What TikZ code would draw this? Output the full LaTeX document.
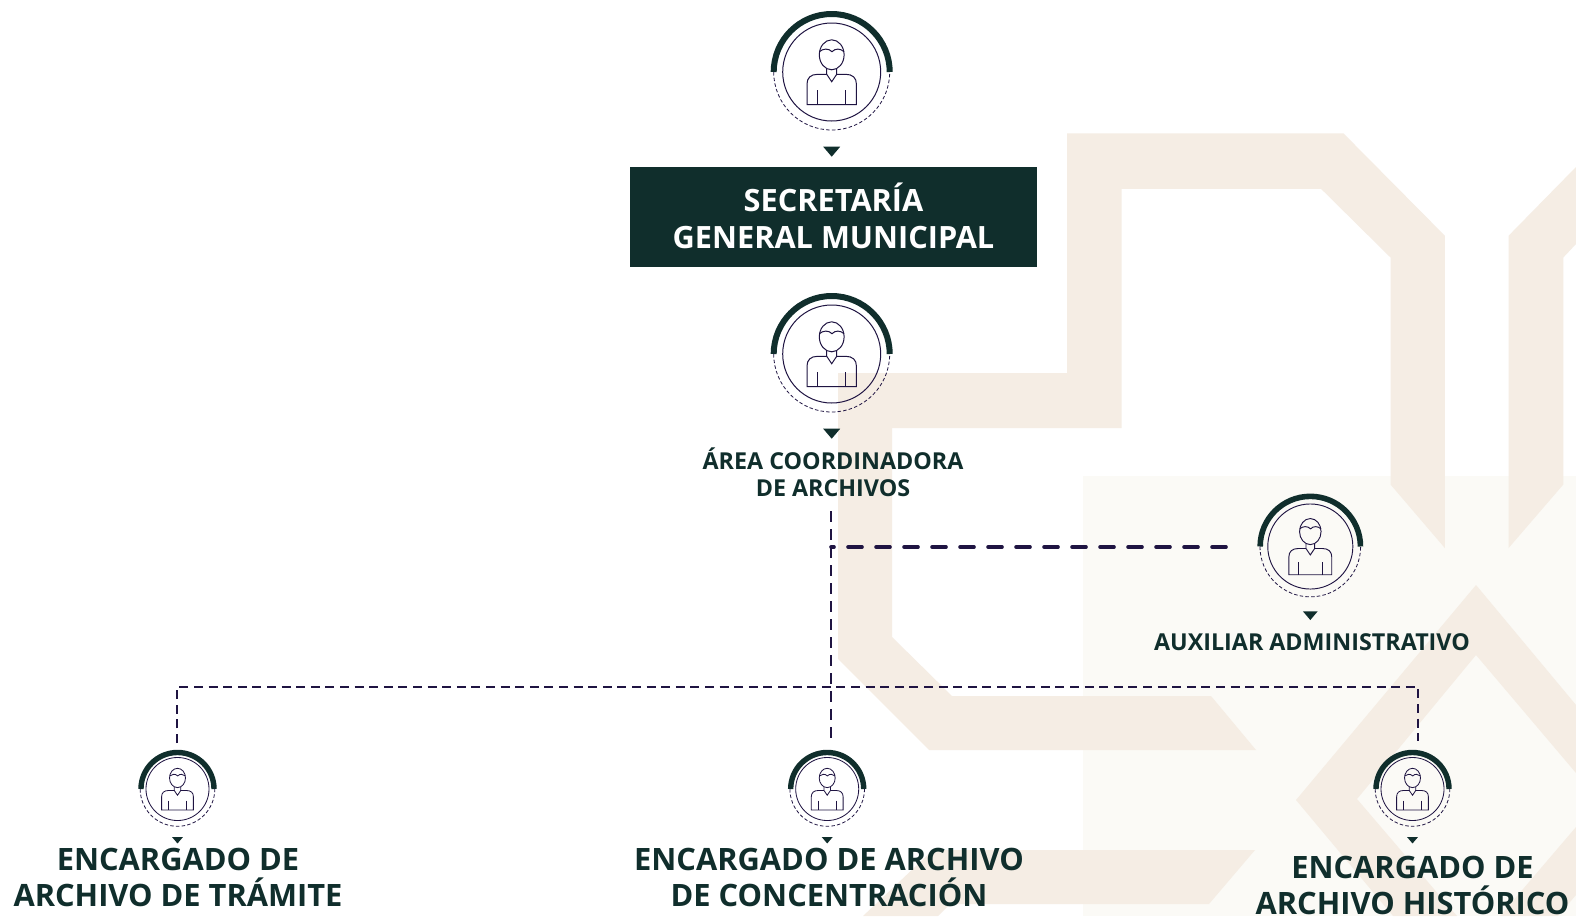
\documentclass[tikz,border=0pt]{standalone}
\usepackage{fontspec}
\setmainfont{Open Sans}
\definecolor{darkgreen}{HTML}{102E2C}
\definecolor{navy}{HTML}{1F1442}
\definecolor{beige}{HTML}{F5EDE4}
\definecolor{cream}{HTML}{FBFAF6}

% #1 name, #2 position, #3 scale, #4 width of the thick arc
\newcommand{\person}[4]{
    \node[circle,minimum size=#3*98pt,inner sep=0pt,draw=navy,line width=#3*0.5pt+0.5pt] (#1) at #2 {};
    \begin{scope}[shift={#2},scale=#3,line width=#3*0.5pt+0.5pt,draw=navy]
        \draw[darkgreen,line width=#4pt] (-61+#4/2/#3,0) arc (180:360:61-#4/2/#3);
        \draw[dash pattern=on 3.5pt off 2.2pt,line width=0.8pt] (-58,0) arc (180:0:58);
        \draw (0,-17.2) ellipse (12.4 and 15);
        \draw (-12.3,-20.3) .. controls (-9,-23.5) and (-3,-24) .. (0.3,-20.3) .. controls (3.5,-24) and (9,-23.5) .. (12.3,-20.3);
        \draw (-5,-3) -- (-5,2.3) -- (0,9.7) -- (5,2.3) -- (5,-3);
        \draw (-5,2.3) -- (-14,2.3) .. controls (-21,2.3) and (-24.7,6) .. (-24.7,12) -- (-24.7,32.5) -- (24.7,32.5)
              -- (24.7,12) .. controls (24.7,6) and (21,2.3) .. (14,2.3) -- (5,2.3);
        \draw (-14,18) -- (-14,32.5);
        \draw (14,18) -- (14,32.5);
        \fill[darkgreen] (-8.5,74.7) -- (8.5,74.7) -- (0,84.7) -- cycle;
    \end{scope}
}

\begin{document}
\begin{tikzpicture}
    [x=1pt,y=-1pt,
    title/.style={inner sep=0pt,align=center,text=darkgreen,font=\bfseries},
    thinlink/.style={draw=navy,line width=2.2pt,dash pattern=on 9pt off 5.6pt},
    thicklink/.style={draw=navy,line width=3.6pt,line cap=round,dash pattern=on 14pt off 14pt,dash phase=0pt}]

    \useasboundingbox[fill=white] (0,0) rectangle (1576,916);

    % background
    \fill[cream] (1083,476) rectangle (1576,916);
    \fill[beige] (1067,133.4) -- (1343.5,133.4) -- (1444.8,235.7) -- (1444.8,548) -- (1390.5,484.5) -- (1390.5,257.5)
          -- (1321,188.8) -- (1121.5,188.8) -- (1121.5,428) -- (892,428) -- (892,637) -- (952,696) -- (1211,696)
          -- (1256,750) -- (929,750) -- (838,659) -- (838,373) -- (1067,373) -- cycle;
    \fill[beige] (1576,167) -- (1508.6,235.7) -- (1508.6,548) -- (1563.3,484.5) -- (1563.3,257.5) -- (1576,244) -- cycle;
    \fill[beige] (1576,705) -- (1476,585) -- (1296,800) -- (1393,916) -- (1457,916) -- (1357,799)
          -- (1476,655) -- (1576,773) -- cycle;
    \fill[beige] (1576,827) -- (1500,916) -- (1558,916) -- (1576,895) -- cycle;
    \fill[beige] (1255,850) -- (1209,904) -- (950,904) -- (938,916) -- (863,916) -- (933,850) -- cycle;

    % icons
    \person{secicon}{(831.7,72)}{1}{6}
    \person{areaicon}{(831.7,354)}{1}{6}
    \person{auxicon}{(1310.3,546.5)}{0.868}{5.6}
    \person{tramicon}{(177.5,789)}{0.643}{5.4}
    \person{concicon}{(827.2,789)}{0.643}{5.4}
    \person{histicon}{(1412.5,789)}{0.643}{5.4}

    % labels
    \node[rectangle,fill=darkgreen,minimum width=407pt,minimum height=100pt,inner sep=0pt,
          text=white,align=center,font=\fontsize{30.7}{37}\selectfont\bfseries] (sec) at (833.5,217)
          {\raisebox{3pt}{SECRETARÍA}\\\raisebox{3pt}{GENERAL MUNICIPAL}};
    \node[title,font=\fontsize{23.3}{27}\selectfont\bfseries] (area) at (833,472.5) {ÁREA COORDINADORA\\DE ARCHIVOS};
    \node[title,font=\fontsize{23.3}{27}\selectfont\bfseries] (aux) at (1312,642) {AUXILIAR ADMINISTRATIVO};
    \node[title,font=\fontsize{30.8}{35.7}\selectfont\bfseries] (tram) at (178,877.5) {ENCARGADO DE\\ARCHIVO DE TRÁMITE};
    \node[title,font=\fontsize{30.8}{35.7}\selectfont\bfseries] (conc) at (829,877.5) {ENCARGADO DE ARCHIVO\\DE CONCENTRACIÓN};
    \node[title,font=\fontsize{30.8}{35.7}\selectfont\bfseries] (hist) at (1412.5,885.5) {ENCARGADO DE\\ARCHIVO HISTÓRICO};

    % connectors
    \coordinate (areaend) at (831,511);
    \coordinate (concend) at (831,743);
    \coordinate (auxstart) at (831,547);
    \coordinate (auxend) at (1226,547);
    \coordinate (tramend) at (177,743);
    \coordinate (tramcorner) at (177,687);
    \coordinate (histcorner) at (1418,687);
    \coordinate (histend) at (1418,741);

    \draw[thinlink,dash pattern=on 11pt off 7pt] (areaend) -- (concend);
    \draw[thinlink] (tramend) -- (tramcorner) -- (histcorner) -- (histend);
    \draw[thicklink] (auxend) -- (auxstart);
\end{tikzpicture}
\end{document}
